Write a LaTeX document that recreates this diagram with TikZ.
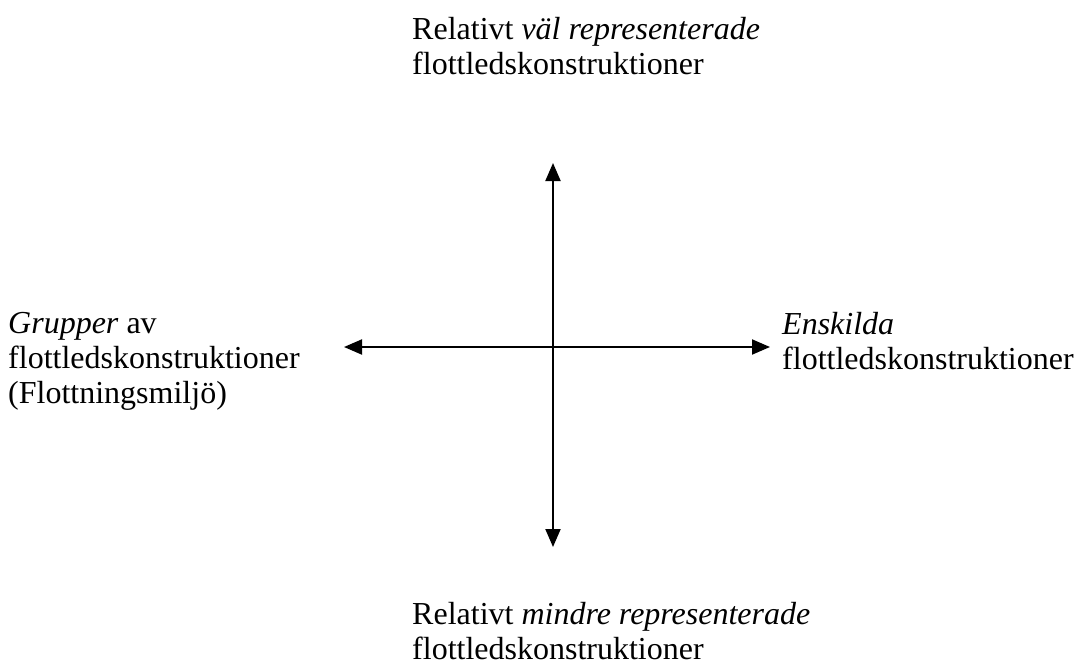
\documentclass[tikz,border=0pt]{standalone}
\usepackage{fontspec}
\setmainfont{Liberation Serif}
\usetikzlibrary{arrows.meta}
\begin{document}
\begin{tikzpicture}[x=1pt,y=-1pt,
  lbl/.style={anchor=north west, inner sep=0pt, align=left, font=\fontsize{32}{35}\selectfont},
  axis/.style={line width=2pt, {Triangle[length=18pt,width=15pt]}-{Triangle[length=18pt,width=15pt]}}]
\useasboundingbox (0,0) rectangle (1080,662);
\node[lbl] (top) at (412,17) {Relativt \textit{väl representerade}\\flottledskonstruktioner};
\node[lbl] (left) at (8,312) {\textit{Grupper} av\\flottledskonstruktioner\\(Flottningsmiljö)};
\node[lbl] (right) at (782,312) {\textit{Enskilda}\\flottledskonstruktioner};
\node[lbl] (bottom) at (412,602) {Relativt \textit{mindre representerade}\\flottledskonstruktioner};
\coordinate (vt) at (553,163);
\coordinate (vb) at (553,547);
\coordinate (hl) at (344,347);
\coordinate (hr) at (770,347);
\draw[axis] (vt) -- (vb);
\draw[axis] (hl) -- (hr);
\end{tikzpicture}
\end{document}
